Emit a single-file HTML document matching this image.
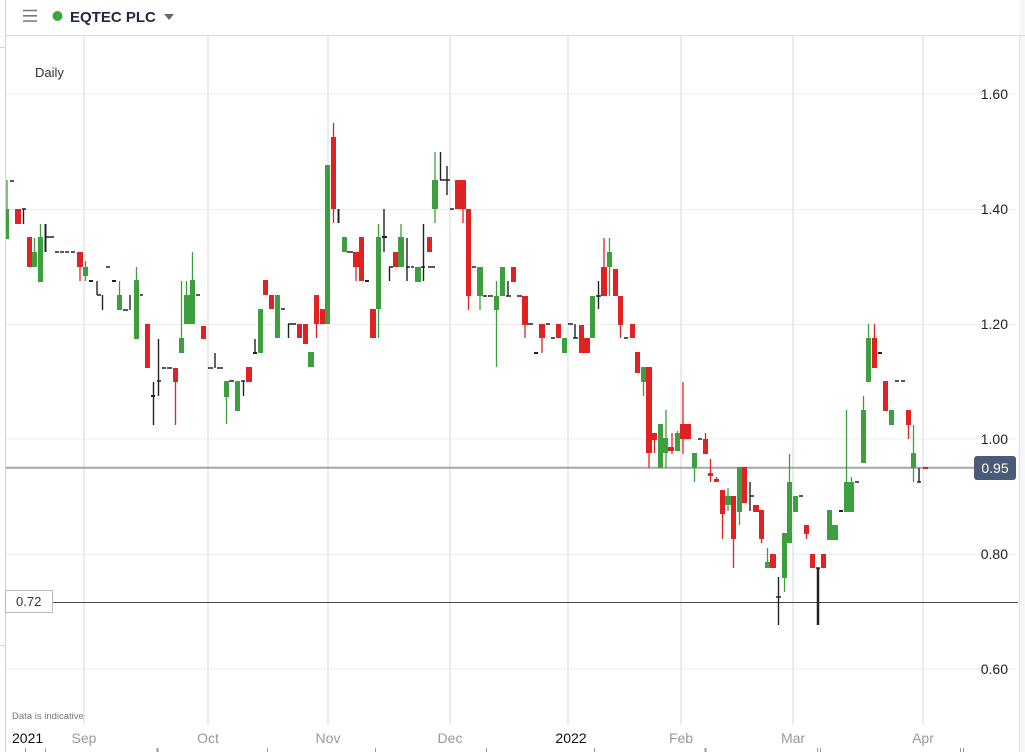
<!DOCTYPE html>
<html><head><meta charset="utf-8">
<style>
html,body{margin:0;padding:0;background:#fff;}
body{width:1025px;height:752px;overflow:hidden;position:relative;font-family:"Liberation Sans",sans-serif;}
svg{position:absolute;left:0;top:0;}
</style></head>
<body>
<svg width="1025" height="752" viewBox="0 0 1025 752" xmlns="http://www.w3.org/2000/svg" font-family="Liberation Sans, sans-serif">
<rect x="1020" y="0" width="5" height="752" fill="#f6f7f8"/>
<path d="M5.5 0V752 M0 47.5H5 M0 645.5H5" stroke="#d4d4d4" stroke-width="1" fill="none"/>
<path d="M5 35.5H1025" stroke="#d8d8d8" stroke-width="1"/>
<path d="M1019.5 35V752" stroke="#e2e2e2" stroke-width="1"/>

<path d="M23 10.5H37 M23 15.8H37 M23 21H37" stroke="#777" stroke-width="1.6"/>
<circle cx="57.5" cy="16" r="5" fill="#3aa53a"/>
<text x="70" y="22" font-weight="bold" font-size="15" fill="#1e2842">EQTEC PLC</text>
<path d="M164 14 L174 14 L169 20 Z" fill="#666"/>

<path d="M6 94H1016 M6 209.5H1016 M6 324.5H1016 M6 439H1016 M6 554.5H1016 M6 669H1016" stroke="#ececec" stroke-width="1"/>
<path d="M84 36V725 M208 36V725 M328 36V725 M450 36V725 M568 36V725 M681 36V725 M793 36V725 M923 36V725" stroke="#e6e6e6" stroke-width="1.6"/>

<text x="35" y="77" font-size="13" fill="#333">Daily</text>
<g font-size="14" fill="#222" text-anchor="end">
<text x="1008" y="99">1.60</text>
<text x="1008" y="214">1.40</text>
<text x="1008" y="329">1.20</text>
<text x="1008" y="444">1.00</text>
<text x="1008" y="559">0.80</text>
<text x="1008" y="674">0.60</text>
</g>

<path d="M6 467.7H974" stroke="#a3a8b0" stroke-width="2"/>
<path d="M53 602.5H1018" stroke="#484848" stroke-width="1"/>
<rect x="5.5" y="590.5" width="47" height="22" fill="#fff" stroke="#bbb" stroke-width="1"/>
<text x="16" y="606" font-size="13" fill="#333">0.72</text>

<path fill="none" stroke="#3d9f3d" stroke-width="1.3" d="M7 180V239 M34.5 238V267 M40.5 224V282 M85.5 261V281 M119.5 281V310 M136.5 267V280 M181.5 281V338 M186.5 281V295 M192.5 252V280 M226.5 381V424 M378.5 224V338 M401 224V237 M435 152V223 M480 296V310 M496.5 281V367 M609.5 238V296 M643.5 382V396 M666 410V468 M677.5 431V433 M694.5 468V482 M728 488V511 M739.5 512V525 M767.5 548V562 M784.5 578V592 M789.5 454V482 M846.5 410V482 M851.5 477V482 M863.5 396V410 M868.5 324V338 M913.5 425V482"/>

<path fill="none" stroke="#e02222" stroke-width="1.3" d="M80 267V281 M175.5 382V425 M316.5 324V338 M333.5 123V223 M356 267V281 M463 209V223 M468.5 296V310 M525 325V338 M542 338V353 M604 238V267 M620.5 325V338 M649 453V468 M654.5 440V453 M672 433V454 M683 382V454 M705.5 433V439 M710.5 459V482 M716.5 477V479 M722.5 514V539 M733.5 539V568 M761.5 539V543 M806.5 534V539 M874.5 324V338 M908.5 425V439"/>

<path fill="#3d9f3d" d="M6 209h3v30h-3z M32 252h5v15h-5z M38 237h5v45h-5z M83 267h5v9h-5z M117 295h5v15h-5z M134 280h5v59h-5z M179 338h5v15h-5z M184 295h6v29h-6z M190 280h5v44h-5z M224 381h5v16h-5z M235 381h5v30h-5z M258 309h5v44h-5z M275 295h5v43h-5z M308 352h6v15h-6z M325 165h5v159h-5z M342 237h5v15h-5z M376 237h5v72h-5z M398 237h6v30h-6z M415 267h6v15h-6z M432 180h6v29h-6z M477 267h6v29h-6z M494 296h5v14h-5z M500 267h5v29h-5z M562 338h5v15h-5z M590 296h5v42h-5z M607 252h5v15h-5z M641 367h5v15h-5z M658 424h5v44h-5z M663 438h5v15h-5z M675 433h5v18h-5z M692 453h5v15h-5z M725 496h6v9h-6z M737 467h5v45h-5z M765 562h5v6h-5z M782 533h5v45h-5z M787 482h5v61h-5z M793 496h5v16h-5z M827 510h5v30h-5z M832 525h6v15h-6z M844 482h5v30h-5z M849 482h5v30h-5z M861 410h5v53h-5z M866 338h5v44h-5z M889 410h5v15h-5z M911 453h5v15h-5z"/>

<path fill="#e02222" d="M15 209h6v15h-6z M27 237h5v30h-5z M77 252h6v15h-6z M145 324h5v44h-5z M173 368h5v14h-5z M201 326h5v13h-5z M246 367h6v15h-6z M263 280h5v15h-5z M269 295h5v14h-5z M297 324h5v14h-5z M303 324h5v20h-5z M314 295h5v29h-5z M320 309h5v15h-5z M331 137h5v72h-5z M353 252h6v15h-6z M359 237h5v44h-5z M370 309h6v29h-6z M393 252h5v15h-5z M427 237h5v15h-5z M455 180h11v29h-11z M466 209h5v87h-5z M511 267h5v15h-5z M522 296h6v29h-6z M539 324h6v14h-6z M556 324h5v14h-5z M579 325h5v28h-5z M584 338h6v15h-6z M601 267h6v29h-6z M613 269h5v27h-5z M618 296h5v29h-5z M630 324h5v14h-5z M635 352h5v21h-5z M646 367h6v86h-6z M652 433h5v7h-5z M668 447h6v4h-6z M680 424h6v15h-6z M686 424h5v15h-5z M703 439h5v15h-5z M708 473h5v3h-5z M714 479h5v3h-5z M720 490h5v24h-5z M731 496h5v43h-5z M742 467h5v36h-5z M753 505h6v7h-6z M759 510h5v29h-5z M770 554h6v14h-6z M804 525h5v9h-5z M810 554h5v14h-5z M821 554h5v14h-5z M872 338h5v30h-5z M883 381h5v30h-5z M906 410h5v15h-5z M923 467h5v2h-5z"/>

<path fill="none" stroke="#222" stroke-width="1.4" d="M23.5 209V224 M97 281V295 M102.5 295V310 M130 295V310 M153.5 382V425 M158.5 339V396 M215 353V368 M243.5 381V396 M255 339V353 M288.5 324V338 M384 209V252 M389.5 267V281 M407 238V281 M423.5 224V281 M440.5 152V180 M447 166V195 M508 281V296 M575 324V338 M598.5 281V309 M750 482V511 M778.5 577V625 M919 468V482"/>
<path fill="none" stroke="#222" stroke-width="2" d="M45.5 224V252 M338.5 209V223"/>
<path fill="none" stroke="#222" stroke-width="2.5" d="M818 568V625"/>

<path fill="none" stroke="#222" stroke-width="1.5" d="M10 181h4 M22 209h4 M45 237h9 M55 252h4 M60 252h4 M65 252h4 M71 252h4 M97 295h4 M106 267h4 M123 310h5 M140 295h3 M157 381h4 M162 368h4 M167 368h5 M196 295h4 M208 368h5 M217 368h6 M229 381h5 M241 381h4 M281 309h4 M288 324h8 M347 252h6 M389 267h4 M406 267h4 M411 267h3 M421 267h4 M428 267h7 M440 180h5 M445 180h5 M450 209h4 M472 267h4 M483 296h4 M488 296h5 M506 296h5 M517 296h5 M528 324h5 M546 324h4 M551 338h4 M568 324h5 M573 338h5 M596 296h5 M624 338h4 M698 439h4 M750 496h4 M776 597h5 M799 496h4 M816 568h4 M855 482h4 M895 381h4 M901 381h4 M917 482h4"/>
<path fill="none" stroke="#222" stroke-width="2" d="M89 281h4 M112 281h4 M151 396h4 M253 353h4 M365 281h4 M382 237h5 M534 353h4 M839 511h4 M878 353h4"/>

<rect x="974" y="456" width="42" height="24" rx="3" ry="3" fill="#4b5a78"/>
<text x="995" y="473" font-size="14" fill="#fff" text-anchor="middle">0.95</text>

<text x="12" y="719" font-size="9.5" fill="#777">Data is indicative</text>
<text x="12" y="743" font-size="14" fill="#111">2021</text>
<g font-size="14" fill="#999" text-anchor="middle">
<text x="84" y="743">Sep</text>
<text x="208" y="743">Oct</text>
<text x="328" y="743">Nov</text>
<text x="450" y="743">Dec</text>
<text x="681" y="743">Feb</text>
<text x="793" y="743">Mar</text>
<text x="923" y="743">Apr</text>
</g>
<text x="571" y="743" font-size="14" fill="#111" text-anchor="middle">2022</text>
<path fill="none" stroke="#999" stroke-width="1" d="M25.5 748V752 M267.5 748V752 M375.5 748V752 M486.5 748V752 M594.5 748V752 M817.5 748V752 M820.5 748V752 M960.5 748V752 M963.5 748V752"/>
<path fill="none" stroke="#999" stroke-width="2" d="M157.5 748V752 M705.5 748V752"/>
<path fill="none" stroke="#9ab" stroke-width="1" d="M45.5 748V752"/>
</svg>
</body></html>
